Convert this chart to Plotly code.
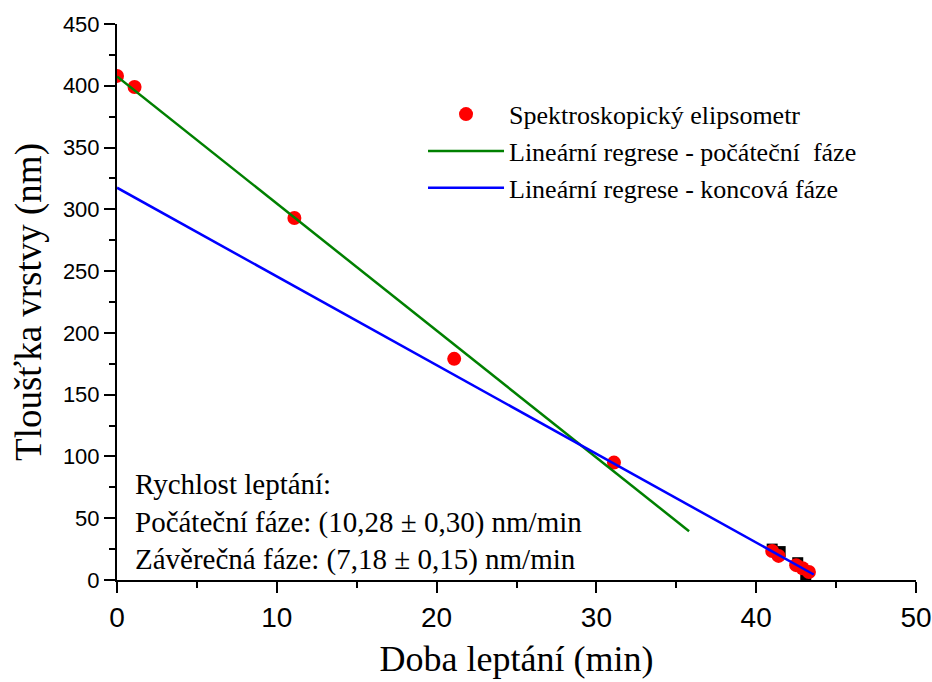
import plotly.graph_objects as go

# Measured data (Spektroskopický elipsometr)
time_min = [0.0, 1.1, 11.1, 21.1, 31.1, 41.0, 41.4, 42.5, 42.9, 43.3]
thickness_nm = [408, 399, 293, 179, 95, 23.5, 19.5, 12, 9.5, 6.5]

# Secondary (black square) points hidden behind the cluster
time_sq = [41.0, 41.5, 42.6, 43.1]
thickness_sq = [25, 23, 14, 4]

# Regression parameters
green_slope, green_intercept = -10.28, 407.5
green_x = [0.0, 35.8]
blue_slope, blue_intercept = -7.18, 317.5
blue_x = [0.0, 43.6]

green_y = [green_intercept + green_slope * x for x in green_x]
blue_y = [blue_intercept + blue_slope * x for x in blue_x]

serif = "Liberation Serif, Times New Roman, serif"
sans = "Liberation Sans, Arial, sans-serif"

fig = go.Figure()
fig.add_trace(go.Scatter(x=time_sq, y=thickness_sq, mode="markers",
                         marker=dict(symbol="square", color="black", size=11),
                         showlegend=False, hoverinfo="skip"))
fig.add_trace(go.Scatter(x=time_min, y=thickness_nm, mode="markers",
                         name="Spektroskopický elipsometr",
                         marker=dict(color="#ff0000", size=14, line=dict(width=0))))
fig.add_trace(go.Scatter(x=green_x, y=green_y, mode="lines",
                         name="Lineární regrese - počáteční  fáze",
                         line=dict(color="#008000", width=2.5)))
fig.add_trace(go.Scatter(x=blue_x, y=blue_y, mode="lines",
                         name="Lineární regrese - koncová fáze",
                         line=dict(color="#0000ff", width=2.5)))

axis_common = dict(showline=True, linecolor="black", linewidth=2,
                   showgrid=False, zeroline=False, ticks="outside",
                   ticklen=11, tickwidth=2, tickcolor="black",
                   mirror=False, automargin=False)

fig.update_xaxes(range=[0, 50], dtick=10, tick0=0,
                 tickfont=dict(family=sans, size=28, color="black"),
                 minor=dict(ticks="outside", dtick=5, ticklen=6, tickwidth=2, tickcolor="black"),
                 title=dict(text="Doba leptání (min)", font=dict(family=serif, size=36, color="black"), standoff=14),
                 **axis_common)
fig.update_yaxes(range=[0, 450], dtick=50, tick0=0,
                 tickfont=dict(family=sans, size=22, color="black"),
                 minor=dict(ticks="outside", dtick=25, ticklen=6, tickwidth=2, tickcolor="black"),
                 title=dict(text="Tloušťka vrstvy (nm)", font=dict(family=serif, size=37, color="black"), standoff=10),
                 **axis_common)

fig.add_annotation(xref="paper", yref="paper", x=0.02, y=0.205, xanchor="left", yanchor="top",
                   align="left", showarrow=False,
                   text="Rychlost leptání:<br>Počáteční fáze: (10,28 ± 0,30) nm/min<br>Závěrečná fáze: (7,18 ± 0,15) nm/min",
                   font=dict(family=serif, size=29, color="black"))

fig.update_layout(
    width=932, height=682,
    margin=dict(l=117, r=16, t=24, b=102),
    paper_bgcolor="white", plot_bgcolor="white",
    legend=dict(x=0.383, y=0.88, xanchor="left", yanchor="top",
                font=dict(family=serif, size=26, color="black"),
                bgcolor="rgba(0,0,0,0)", itemwidth=76, tracegroupgap=0),
)

fig.write_html("out.html")
